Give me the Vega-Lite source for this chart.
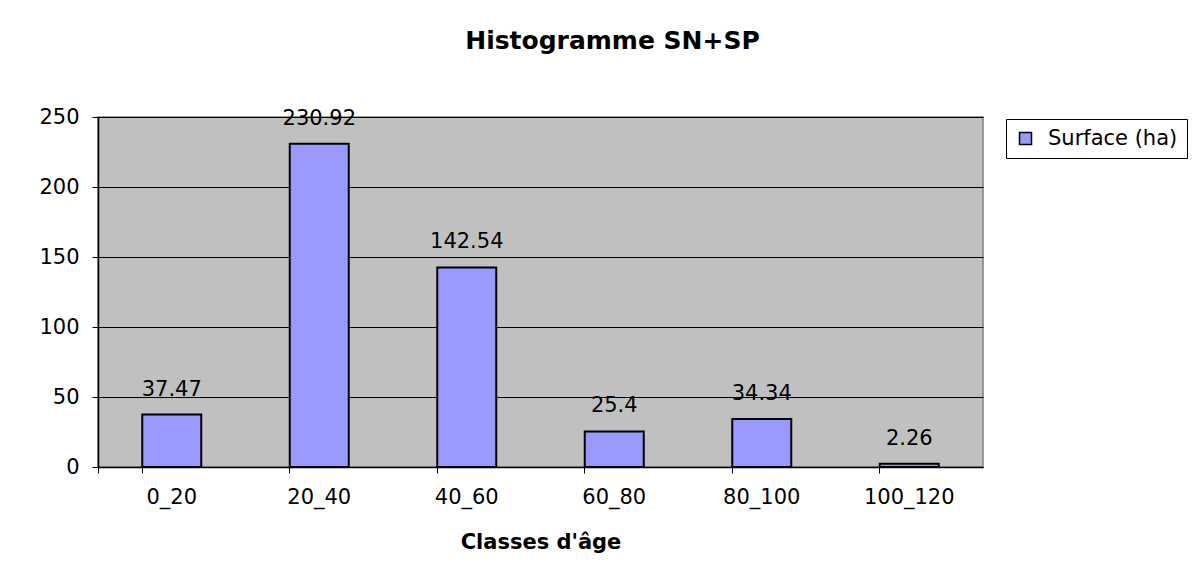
{
  "$schema": "https://vega.github.io/schema/vega-lite/v6.json",
  "width": 885,
  "height": 350,
  "autosize": {"type": "none"},
  "padding": {"left": 98, "top": 117, "right": 220, "bottom": 111},
  "background": "white",
  "title": {
    "text": "Histogramme SN+SP",
    "fontSize": 25,
    "fontWeight": "bold",
    "font": "DejaVu Sans",
    "anchor": "middle",
    "dx": 72,
    "offset": 32,
    "baseline": "alphabetic",
    "color": "black"
  },
  "config": {
    "font": "DejaVu Sans",
    "view": {"fill": "#C0C0C0", "stroke": "#808080", "strokeWidth": 1.5}
  },
  "data": {
    "values": [
      {"classe": "0_20", "surface": 37.47, "serie": "Surface (ha)"},
      {"classe": "20_40", "surface": 230.92, "serie": "Surface (ha)"},
      {"classe": "40_60", "surface": 142.54, "serie": "Surface (ha)"},
      {"classe": "60_80", "surface": 25.4, "serie": "Surface (ha)"},
      {"classe": "80_100", "surface": 34.34, "serie": "Surface (ha)"},
      {"classe": "100_120", "surface": 2.26, "serie": "Surface (ha)"}
    ]
  },
  "encoding": {
    "x": {
      "field": "classe",
      "type": "nominal",
      "sort": null,
      "scale": {"paddingInner": 0.6, "paddingOuter": 0.3},
      "axis": {
        "bandPosition": 0,
        "tickExtra": true,
        "ticks": true,
        "tickSize": 6,
        "tickColor": "black",
        "domainColor": "black",
        "domainWidth": 1.5,
        "grid": false,
        "labelAngle": 0,
        "labelFontSize": 21,
        "labelColor": "black",
        "labelPadding": 13,
        "title": "Classes d'âge",
        "titleFontSize": 21,
        "titleFontWeight": "bold",
        "titleColor": "black",
        "titleBaseline": "alphabetic",
        "titleY": 81
      }
    },
    "y": {
      "field": "surface",
      "type": "quantitative",
      "scale": {"domain": [0, 250], "nice": false},
      "axis": {
        "values": [0, 50, 100, 150, 200, 250],
        "grid": true,
        "gridColor": "black",
        "gridWidth": 1,
        "tickSize": 6,
        "tickColor": "black",
        "domainColor": "black",
        "domainWidth": 1.5,
        "labelFontSize": 21,
        "labelColor": "black",
        "labelPadding": 13,
        "title": null
      }
    }
  },
  "layer": [
    {
      "mark": {"type": "bar", "stroke": "black", "strokeWidth": 2},
      "encoding": {
        "color": {
          "field": "serie",
          "type": "nominal",
          "scale": {"range": ["#9999FF"]},
          "legend": {
            "title": null,
            "orient": "none",
            "legendX": 908,
            "legendY": 2,
            "strokeColor": "black",
            "fillColor": "white",
            "padding": 9,
            "symbolType": "square",
            "symbolSize": 144,
            "symbolStrokeColor": "black",
            "symbolStrokeWidth": 1.5,
            "labelFontSize": 21,
            "labelColor": "black",
            "labelOffset": 12
          }
        }
      }
    },
    {
      "mark": {"type": "text", "baseline": "alphabetic", "dy": -19, "fontSize": 21, "color": "black"},
      "encoding": {"text": {"field": "surface", "type": "nominal"}}
    }
  ]
}
